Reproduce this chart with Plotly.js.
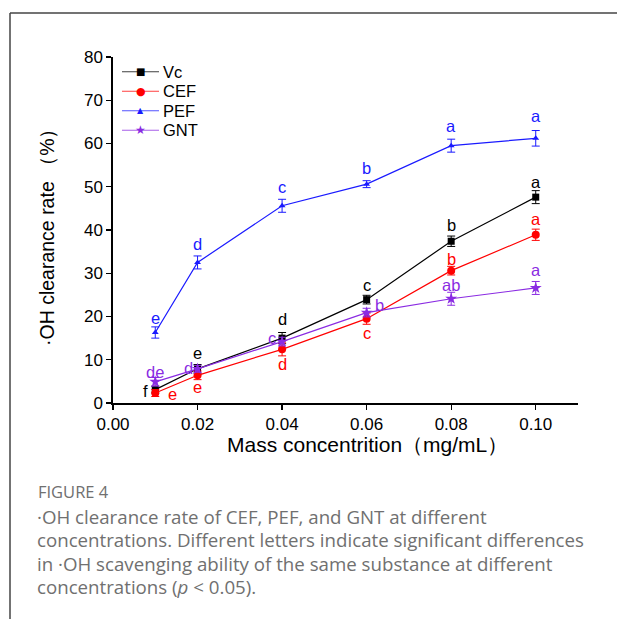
<!DOCTYPE html>
<html><head><meta charset="utf-8">
<script src="https://cdn.plot.ly/plotly-3.0.1.min.js"></script>
<style>html,body{margin:0;padding:0;background:#fff;}#chart{width:617px;height:619px;}</style>
</head><body><div id="chart"></div>
<script>
const conc = [0.01, 0.02, 0.04, 0.06, 0.08, 0.10];
const seriesNames = ['Vc', 'CEF', 'PEF', 'GNT'];
const vcVals  = [3.1, 7.9, 15.0, 23.9, 37.4, 47.6];
const cefVals = [2.3, 6.4, 12.4, 19.5, 30.6, 38.9];
const pefVals = [16.3, 32.5, 45.6, 50.6, 59.5, 61.2];
const gntVals = [4.9, 7.9, 14.2, 20.9, 24.1, 26.6];
const vcErr  = [0.8, 1.0, 1.3, 1.0, 1.2, 1.5];
const cefErr = [0.8, 1.0, 1.5, 1.3, 1.0, 1.3];
const pefErr = [1.3, 1.5, 1.5, 0.8, 1.5, 1.8];
const gntErr = [1.0, 0.8, 1.0, 1.0, 1.5, 1.5];
const vcLetters  = ['f', 'e', 'd', 'c', 'b', 'a'];
const cefLetters = ['e', 'e', 'd', 'c', 'b', 'a'];
const pefLetters = ['e', 'd', 'c', 'b', 'a', 'a'];
const gntLetters = ['de', 'd', 'c', 'b', 'ab', 'a'];
const xTickVals = [0, 0.02, 0.04, 0.06, 0.08, 0.10];
const xTickText = ['0.00', '0.02', '0.04', '0.06', '0.08', '0.10'];
const yTickVals = [0, 10, 20, 30, 40, 50, 60, 70, 80];
const xTitle = 'Mass concentrition（mg/mL）';
const yTitle = '·OH clearance rate （%）';
const captionTitle = 'FIGURE 4';
const captionLines = [
  '·OH clearance rate of CEF, PEF, and GNT at different',
  'concentrations. Different letters indicate significant differences',
  'in ·OH scavenging ability of the same substance at different',
  'concentrations (<i>p</i> &lt; 0.05).'
];

const colors = ['#000000', '#ff0000', '#1a1aff', '#8a2be2'];
const symbols = ['square', 'circle', 'triangle-up', 'star'];
const legendGlyphs = ['■', '●', '▲', '★'];
const legendGlyphSize = [10, 11, 8, 12];
const msizes = [7, 8, 6, 9];
const vals = [vcVals, cefVals, pefVals, gntVals];
const errs = [vcErr, cefErr, pefErr, gntErr];
const letters = [vcLetters, cefLetters, pefLetters, gntLetters];
const FONT = 'Liberation Sans, Arial, sans-serif';

// pixel -> paper helpers (plot area: x 113..578, y 57..403)
const PX = X => (X - 113) / 465;
const PY = Y => (403 - Y) / 346;

const traces = vals.map((v, i) => ({
  x: conc, y: v, name: seriesNames[i], type: 'scatter', mode: 'lines+markers',
  line: {color: colors[i], width: 1.2},
  marker: {color: colors[i], symbol: symbols[i], size: msizes[i]},
  error_y: {type: 'data', array: errs[i], visible: true, color: colors[i], thickness: 1, width: 4}
}));

// label offsets (pixels) per series per point
const offsets = [
  [[-10, -1], [0, 16], [0, 19], [0, 15], [0, 16], [0, 15]],
  [[17, -1], [0, -12], [0, -15], [0, -14], [0, 12], [0, 16]],
  [[0, 15], [0, 18], [0, 19], [0, 16], [0, 20], [0, 22]],
  [[0, 10], [-9, 1], [-10, 4], [13, 8], [0, 14], [0, 18]]
];

const annotations = [];
const shapes = [];
letters.forEach((arr, i) => {
  arr.forEach((t, j) => {
    annotations.push({
      x: conc[j], y: vals[i][j], xref: 'x', yref: 'y', text: t, showarrow: false,
      xshift: offsets[i][j][0], yshift: offsets[i][j][1],
      font: {family: FONT, size: 16.5, color: colors[i]}
    });
  });
});

// custom legend
seriesNames.forEach((nm, i) => {
  const rowY = 71.7 + i * 19.5;
  shapes.push({type: 'line', xref: 'paper', yref: 'paper', x0: PX(122), x1: PX(159), y0: PY(rowY), y1: PY(rowY),
    line: {color: colors[i], width: 1.1}, opacity: 0.75});
  annotations.push({xref: 'paper', yref: 'paper', x: PX(140.5), y: PY(rowY), xanchor: 'center', yanchor: 'middle',
    showarrow: false, text: legendGlyphs[i], font: {family: 'DejaVu Sans', size: legendGlyphSize[i], color: colors[i]}});
  annotations.push({xref: 'paper', yref: 'paper', x: PX(161), y: PY(rowY), xanchor: 'left', yanchor: 'middle',
    showarrow: false, text: nm, font: {family: FONT, size: 16.5, color: '#000'}});
});

// axis titles
annotations.push({xref: 'paper', yref: 'paper', x: PX(225), y: PY(444), xanchor: 'left', yanchor: 'middle',
  showarrow: false, text: xTitle, font: {family: FONT, size: 21, color: '#000'}});
annotations.push({xref: 'paper', yref: 'paper', x: PX(47), y: PY(232), xanchor: 'center', yanchor: 'middle',
  showarrow: false, textangle: -90, text: yTitle, font: {family: FONT, size: 19.5, color: '#000'}});

// caption
annotations.push({
  xref: 'paper', yref: 'paper', x: PX(36), y: PY(491),
  xanchor: 'left', yanchor: 'middle', showarrow: false, text: captionTitle,
  font: {family: 'Open Sans, sans-serif', size: 16.5, color: '#707070'}
});
captionLines.forEach((ln, k) => {
  annotations.push({
    xref: 'paper', yref: 'paper', x: PX(35), y: PY(516 + k * 23.5),
    xanchor: 'left', yanchor: 'middle', showarrow: false, text: ln,
    font: {family: 'Open Sans, sans-serif', size: 18.7, color: '#707070'}
  });
});

shapes.push(
  {type: 'line', xref: 'paper', yref: 'paper', x0: PX(10), x1: PX(617), y0: PY(13), y1: PY(13), line: {color: '#444', width: 1.5}},
  {type: 'line', xref: 'paper', yref: 'paper', x0: PX(10), x1: PX(10), y0: PY(13), y1: PY(619), line: {color: '#444', width: 1.5}}
);

const layout = {
  width: 617, height: 619,
  margin: {l: 113, r: 39, t: 57, b: 216},
  paper_bgcolor: '#ffffff', plot_bgcolor: '#ffffff',
  showlegend: false,
  xaxis: {
    range: [0, 0.11], tickvals: xTickVals, ticktext: xTickText,
    showline: true, linecolor: '#000', linewidth: 1.6, ticks: 'outside', ticklen: 5, tickwidth: 1.3, tickcolor: '#000',
    showgrid: false, zeroline: false,
    tickfont: {family: FONT, size: 17, color: '#000'}
  },
  yaxis: {
    range: [0, 80], tickvals: yTickVals,
    showline: true, linecolor: '#000', linewidth: 1.6, ticks: 'outside', ticklen: 5, tickwidth: 1.3, tickcolor: '#000',
    showgrid: false, zeroline: false,
    tickfont: {family: FONT, size: 17, color: '#000'}
  },
  annotations: annotations,
  shapes: shapes
};

Plotly.newPlot('chart', traces, layout, {displayModeBar: false, staticPlot: true});
</script></body></html>
